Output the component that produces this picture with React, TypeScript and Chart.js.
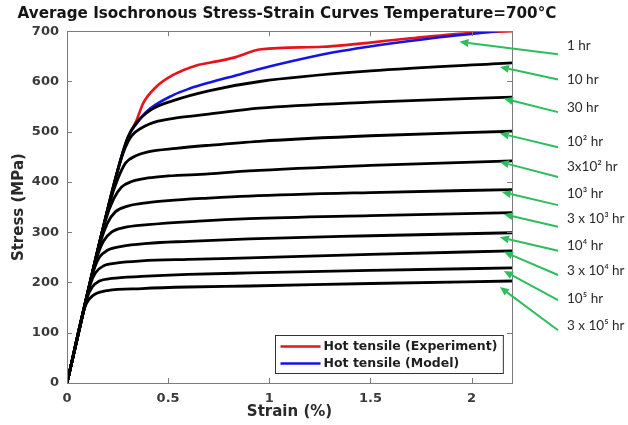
import React, { useEffect, useRef } from 'react';
import { Chart, registerables } from 'chart.js';

Chart.register(...registerables);

// ---------- text ----------
const titleText = 'Average Isochronous Stress-Strain Curves Temperature=700°C';
const xAxisTitle = 'Strain (%)';
const yAxisTitle = 'Stress (MPa)';
const xTicks = [0, 0.5, 1, 1.5, 2];
const yTicks = [0, 100, 200, 300, 400, 500, 600, 700];

// ---------- hot tensile ----------
const expLabel = 'Hot tensile (Experiment)';
const expStrain = [0, 0.24, 0.3, 0.344, 0.377, 0.443, 0.525, 0.64, 0.74, 0.82, 0.96, 1.264, 1.677, 2.005, 2.2];
const expStress = [0, 408, 486, 523, 557, 590, 613, 632, 640, 647, 664, 669, 685, 697, 700];

const modelLabel = 'Hot tensile (Model)';
const modelStrain = [0, 0.24, 0.3, 0.344, 0.393, 0.525, 0.607, 0.706, 0.854, 0.953, 1.348, 1.842, 2.13];
const modelStress = [0, 408, 488, 516, 540, 573, 586, 598, 614, 625, 660, 688, 700];

// ---------- isochronous curves ----------
const strain10h = [0, 0.24, 0.3, 0.34, 0.42, 0.525, 0.706, 0.953, 1.5, 2.2];
const stress10h = [0, 408, 488, 516, 545, 562, 582, 600, 621, 637];
const strain30h = [0, 0.23, 0.28, 0.32, 0.37, 0.45, 0.55, 0.7, 0.95, 1.5, 2.2];
const stress30h = [0, 391, 460, 492, 508, 521, 528, 535, 547, 559, 569];
const strain1e2h = [0, 0.21, 0.25, 0.29, 0.34, 0.4, 0.54, 0.7, 0.95, 1.5, 2.2];
const stress1e2h = [0, 357, 405, 438, 452, 460, 467, 473, 481, 492, 501];
const strain3e2h = [0, 0.19, 0.23, 0.27, 0.32, 0.4, 0.5, 0.7, 0.9, 1.5, 2.2];
const stress3e2h = [0, 323, 366, 390, 401, 408, 412, 416, 422, 433, 442];
const strain1e3h = [0, 0.165, 0.2, 0.24, 0.3, 0.4, 0.5, 0.7, 0.9, 1.5, 2.2];
const stress1e3h = [0, 280, 318, 341, 352, 359, 363, 368, 372, 379, 385];
const strain3e3h = [0, 0.145, 0.18, 0.22, 0.28, 0.4, 0.65, 0.9, 1.5, 2.2];
const stress3e3h = [0, 246, 282, 300, 309, 315, 322, 327, 333, 339];
const strain1e4h = [0, 0.13, 0.16, 0.2, 0.27, 0.4, 0.6, 0.9, 1.5, 2.2];
const stress1e4h = [0, 221, 250, 264, 272, 278, 282, 287, 293, 299];
const strain3e4h = [0, 0.115, 0.14, 0.18, 0.25, 0.37, 0.6, 0.9, 1.5, 2.2];
const stress3e4h = [0, 196, 219, 233, 239, 243, 246, 249, 256, 263];
const strain1e5h = [0, 0.1, 0.125, 0.16, 0.22, 0.37, 0.6, 0.9, 1.5, 2.2];
const stress1e5h = [0, 170, 191, 203, 208, 212, 216, 219, 224, 229];
const strain3e5h = [0, 0.088, 0.11, 0.14, 0.2, 0.37, 0.6, 0.9, 1.5, 2.2];
const stress3e5h = [0, 150, 167, 177, 184, 188, 191, 193, 198, 203];

// ---------- right-hand annotations ----------
const hourLabels = ['1 hr', '10 hr', '30 hr', '10² hr', '3x10² hr', '10³ hr', '3 x 10³ hr', '10⁴ hr', '3 x 10⁴ hr', '10⁵ hr', '3 x 10⁵ hr'];
const arrowHeadStrain = [1.94, 2.14, 2.16, 2.14, 2.14, 2.15, 2.16, 2.14, 2.16, 2.16, 2.14];
const arrowHeadStress = [679, 629, 566, 497, 440, 380, 336, 290, 261, 223, 191];
const arrowTailStress = [654, 604, 539, 469, 410, 354, 311, 263, 215, 165, 105];
const hourLabelStress = [672, 604, 547, 480, 430, 377, 327, 274, 223, 168, 115];

const zip = (xs: number[], ys: number[]) => xs.map((x, i) => ({ x, y: ys[i] }));

const blackPairs: [number[], number[]][] = [
  [strain10h, stress10h],
  [strain30h, stress30h],
  [strain1e2h, stress1e2h],
  [strain3e2h, stress3e2h],
  [strain1e3h, stress1e3h],
  [strain3e3h, stress3e3h],
  [strain1e4h, stress1e4h],
  [strain3e4h, stress3e4h],
  [strain1e5h, stress1e5h],
  [strain3e5h, stress3e5h],
];

const RED = '#e8121c';
const BLUE = '#1414e6';
const GREEN = '#2dbd5c';
const FRAME = '#7c7c7c';
const MAIN_FONT = '"DejaVu Sans", sans-serif';
const NOTE_FONT = '"Lato", "Noto Sans", sans-serif';

const overlayPlugin = {
  id: 'overlay',
  afterDatasetsDraw(chart: any) {
    const ctx: CanvasRenderingContext2D = chart.ctx;
    const { left, right, top, bottom } = chart.chartArea;
    const xs = chart.scales.x;
    const ys = chart.scales.y;
    ctx.save();

    // frame
    ctx.strokeStyle = FRAME;
    ctx.lineWidth = 1;
    ctx.strokeRect(Math.round(left) + 0.5, Math.round(top) + 0.5, Math.round(right - left), Math.round(bottom - top));

    // inward ticks
    const tl = 5;
    ctx.beginPath();
    xTicks.forEach((v) => {
      const px = Math.round(xs.getPixelForValue(v)) + 0.5;
      ctx.moveTo(px, bottom);
      ctx.lineTo(px, bottom - tl);
      ctx.moveTo(px, top);
      ctx.lineTo(px, top + tl);
    });
    yTicks.forEach((v) => {
      const py = Math.round(ys.getPixelForValue(v)) + 0.5;
      ctx.moveTo(left, py);
      ctx.lineTo(left + tl, py);
      ctx.moveTo(right, py);
      ctx.lineTo(right - tl, py);
    });
    ctx.stroke();

    // legend
    const legendItems = [
      { label: expLabel, color: RED },
      { label: modelLabel, color: BLUE },
    ];
    ctx.font = `bold 12.5px ${MAIN_FONT}`;
    const tw = Math.max(...legendItems.map((it) => ctx.measureText(it.label).width));
    const sampleW = 40;
    const bw = 5 + sampleW + 3 + tw + 6;
    const bh = 38;
    const bx = Math.round(right - 9 - bw) + 0.5;
    const by = Math.round(bottom - 10 - bh) + 0.5;
    ctx.fillStyle = '#ffffff';
    ctx.fillRect(bx, by, bw, bh);
    ctx.strokeStyle = '#333333';
    ctx.lineWidth = 1;
    ctx.strokeRect(bx, by, bw, bh);
    legendItems.forEach((it, i) => {
      const ly = by + 11 + i * 17;
      ctx.strokeStyle = it.color;
      ctx.lineWidth = 2.5;
      ctx.beginPath();
      ctx.moveTo(bx + 5, ly);
      ctx.lineTo(bx + 5 + sampleW, ly);
      ctx.stroke();
      ctx.fillStyle = '#1e1e1e';
      ctx.textAlign = 'left';
      ctx.textBaseline = 'middle';
      ctx.fillText(it.label, bx + 5 + sampleW + 3, ly + 0.5);
    });

    // green arrows + labels
    const tailX = right + 46;
    const labelX = right + 55;
    hourLabels.forEach((lab, i) => {
      const hx = xs.getPixelForValue(arrowHeadStrain[i]);
      const hy = ys.getPixelForValue(arrowHeadStress[i]);
      const ty = ys.getPixelForValue(arrowTailStress[i]);
      const ang = Math.atan2(hy - ty, hx - tailX);
      const hl = 9;
      const hw = 4;
      const bxp = hx - hl * Math.cos(ang);
      const byp = hy - hl * Math.sin(ang);
      ctx.strokeStyle = GREEN;
      ctx.fillStyle = GREEN;
      ctx.lineWidth = 2;
      ctx.beginPath();
      ctx.moveTo(tailX, ty);
      ctx.lineTo(bxp, byp);
      ctx.stroke();
      ctx.beginPath();
      ctx.moveTo(hx, hy);
      ctx.lineTo(bxp + hw * Math.sin(ang), byp - hw * Math.cos(ang));
      ctx.lineTo(bxp - hw * Math.sin(ang), byp + hw * Math.cos(ang));
      ctx.closePath();
      ctx.fill();

      ctx.fillStyle = '#2a2a2a';
      ctx.font = `13.5px ${NOTE_FONT}`;
      ctx.textAlign = 'left';
      ctx.textBaseline = 'middle';
      ctx.fillText(lab, labelX, ys.getPixelForValue(hourLabelStress[i]));
    });

    ctx.restore();
  },
};

export default function App() {
  const canvasRef = useRef<HTMLCanvasElement | null>(null);

  useEffect(() => {
    const canvas = canvasRef.current;
    if (!canvas) return;

    const blackSets = blackPairs.map(([sx, sy]) => ({
      label: '',
      data: zip(sx, sy),
      borderColor: '#000000',
      borderWidth: 2.8,
      pointRadius: 0,
      fill: false,
      cubicInterpolationMode: 'monotone' as const,
    }));

    const tickFont = { family: MAIN_FONT, size: 13, weight: 'bold' as const };
    const axisTitleFont = { family: MAIN_FONT, size: 15, weight: 'bold' as const };

    const chart = new Chart(canvas, {
      type: 'line',
      data: {
        datasets: [
          ...blackSets,
          {
            label: modelLabel,
            data: zip(modelStrain, modelStress),
            borderColor: BLUE,
            borderWidth: 2.6,
            pointRadius: 0,
            fill: false,
            cubicInterpolationMode: 'monotone' as const,
          },
          {
            label: expLabel,
            data: zip(expStrain, expStress),
            borderColor: RED,
            borderWidth: 2.6,
            pointRadius: 0,
            fill: false,
            cubicInterpolationMode: 'monotone' as const,
          },
        ],
      },
      options: {
        animation: false,
        responsive: false,
        devicePixelRatio: 1,
        layout: { padding: { left: 0, right: 54, top: 0, bottom: 0 } },
        plugins: {
          legend: { display: false },
          tooltip: { enabled: false },
          title: {
            display: true,
            text: titleText,
            color: '#151515',
            font: { family: MAIN_FONT, size: 15.2, weight: 'bold' },
            padding: { top: 5, bottom: 8 },
          },
        },
        scales: {
          x: {
            type: 'linear',
            min: 0,
            max: 2.2,
            afterBuildTicks: (axis: any) => {
              axis.ticks = xTicks.map((v) => ({ value: v }));
            },
            afterFit: (axis: any) => {
              axis.height = 42;
            },
            grid: { display: false, drawTicks: false },
            border: { display: false },
            ticks: {
              padding: 8,
              color: '#3a3a3a',
              font: tickFont,
              maxRotation: 0,
              callback: (v: any) => String(v),
            },
            title: {
              display: true,
              text: xAxisTitle,
              color: '#2a2a2a',
              font: axisTitleFont,
              padding: { top: 0, bottom: 4 },
            },
          },
          y: {
            type: 'linear',
            min: 0,
            max: 700,
            afterBuildTicks: (axis: any) => {
              axis.ticks = yTicks.map((v) => ({ value: v }));
            },
            afterFit: (axis: any) => {
              axis.width = 67;
            },
            grid: { display: false, drawTicks: false },
            border: { display: false },
            ticks: {
              padding: 8,
              color: '#3a3a3a',
              font: tickFont,
              callback: (v: any) => String(v),
            },
            title: {
              display: true,
              text: yAxisTitle,
              color: '#2a2a2a',
              font: axisTitleFont,
              padding: { top: 10, bottom: 0 },
            },
          },
          yR: {
            type: 'linear',
            position: 'right',
            min: 0,
            max: 700,
            grid: { display: false, drawTicks: false },
            border: { display: false },
            ticks: { display: false },
            afterFit: (axis: any) => {
              axis.width = 62;
            },
          },
        },
      },
      plugins: [overlayPlugin],
    });

    return () => {
      chart.destroy();
    };
  }, []);

  return (
    <div style={{ position: 'fixed', left: 0, top: 0, width: 628, height: 425, background: '#ffffff' }}>
      <canvas ref={canvasRef} width={628} height={425} style={{ display: 'block', width: 628, height: 425 }} />
    </div>
  );
}
